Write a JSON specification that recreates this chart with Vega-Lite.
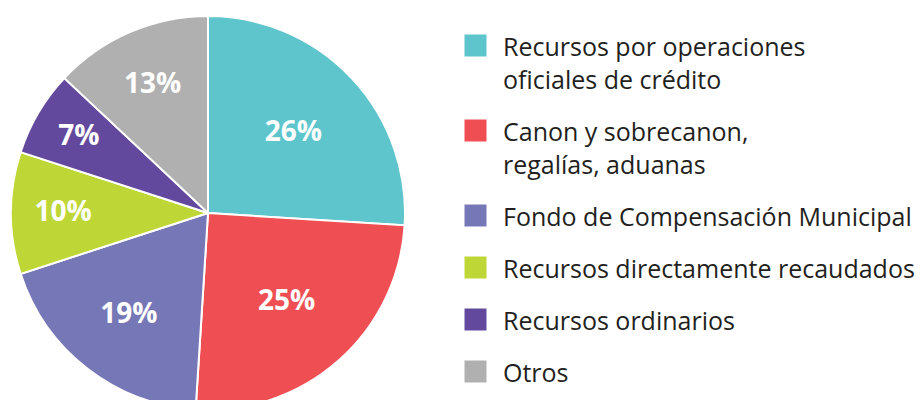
{
  "$schema": "https://vega.github.io/schema/vega-lite/v6.json",
  "width": 416,
  "height": 426,
  "autosize": {"type": "none"},
  "padding": {"left": 0, "top": 0, "right": 505, "bottom": 0},
  "background": "white",
  "data": {
    "values": [
      {"fuente": "Recursos por operaciones oficiales de crédito", "pct": 0.26, "orden": 1},
      {"fuente": "Canon y sobrecanon, regalías, aduanas", "pct": 0.25, "orden": 2},
      {"fuente": "Fondo de Compensación Municipal", "pct": 0.19, "orden": 3},
      {"fuente": "Recursos directamente recaudados", "pct": 0.10, "orden": 4},
      {"fuente": "Recursos ordinarios", "pct": 0.07, "orden": 5},
      {"fuente": "Otros", "pct": 0.13, "orden": 6}
    ]
  },
  "encoding": {
    "theta": {"field": "pct", "type": "quantitative", "stack": true},
    "order": {"field": "orden", "type": "quantitative"},
    "color": {
      "field": "fuente",
      "type": "nominal",
      "sort": null,
      "scale": {
        "domain": ["Recursos por operaciones oficiales de crédito", "Canon y sobrecanon, regalías, aduanas", "Fondo de Compensación Municipal", "Recursos directamente recaudados", "Recursos ordinarios", "Otros"],
        "range": ["#5EC5CC", "#EF4E52", "#7677B6", "#BED737", "#62499D", "#B0B0B0"]
      },
      "legend": {
        "title": null,
        "orient": "none",
        "legendX": 463,
        "legendY": 33,
        "symbolType": "square",
        "symbolSize": 484,
        "symbolStrokeWidth": 0,
        "symbolOpacity": 1,
        "labelFont": "Open Sans",
        "labelFontSize": 25,
        "labelColor": "#231F20",
        "labelLimit": 500,
        "labelOffset": 15,
        "labelBaseline": "top",
        "rowPadding": 24,
        "labelExpr": "datum.label == 'Recursos por operaciones oficiales de crédito' ? ['Recursos por operaciones', 'oficiales de crédito'] : datum.label == 'Canon y sobrecanon, regalías, aduanas' ? ['Canon y sobrecanon,', 'regalías, aduanas'] : datum.label",
        "encode": {
          "labels": {"update": {"dy": {"value": -10}, "lineHeight": {"value": 33}}}
        }
      }
    }
  },
  "layer": [
    {
      "mark": {"type": "arc", "outerRadius": 197, "stroke": "white", "strokeWidth": 2}
    },
    {
      "mark": {"type": "text", "font": "Open Sans", "fontWeight": "bold", "fontSize": 28, "fill": "white", "align": "center", "baseline": "middle"},
      "encoding": {
        "text": {"field": "pct", "type": "quantitative", "format": ".0%"},
        "radius": {"field": "pct", "type": "quantitative", "scale": {"type": "linear", "zero": false, "domain": [0.07, 0.26], "range": [150, 117]}}
      }
    }
  ]
}
